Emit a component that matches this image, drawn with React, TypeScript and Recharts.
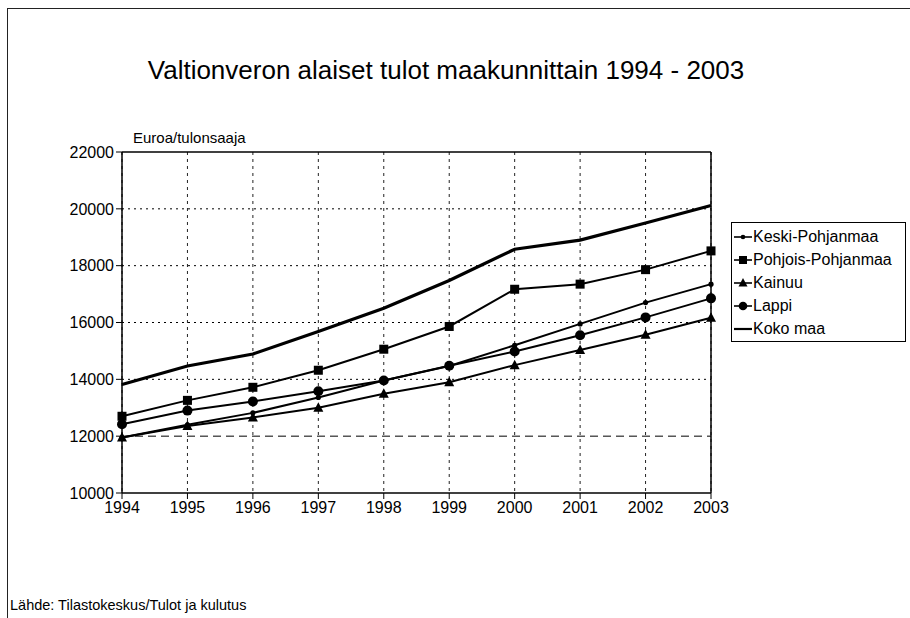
import React from 'react';
import { LineChart, Line, XAxis, YAxis, CartesianGrid, ReferenceLine } from 'recharts';

const years = [1994, 1995, 1996, 1997, 1998, 1999, 2000, 2001, 2002, 2003];
const keskiPohjanmaa = [11950, 12400, 12820, 13360, 13960, 14470, 15200, 15950, 16700, 17350];
const pohjoisPohjanmaa = [12700, 13260, 13720, 14320, 15060, 15860, 17170, 17350, 17860, 18520];
const kainuu = [11950, 12360, 12660, 13000, 13490, 13900, 14500, 15030, 15570, 16170];
const lappi = [12420, 12900, 13220, 13580, 13960, 14480, 14980, 15550, 16180, 16850];
const kokoMaa = [13820, 14470, 14890, 15680, 16500, 17480, 18580, 18900, 19500, 20120];
const yTicks = [10000, 12000, 14000, 16000, 18000, 20000, 22000];
const dottedGrid = [14000, 16000, 18000, 20000];
const seriesNames = ['Keski-Pohjanmaa', 'Pohjois-Pohjanmaa', 'Kainuu', 'Lappi', 'Koko maa'];

const data = years.map((y, i) => ({
  year: y,
  keski: keskiPohjanmaa[i],
  pohjois: pohjoisPohjanmaa[i],
  kainuu: kainuu[i],
  lappi: lappi[i],
  koko: kokoMaa[i],
}));

const FONT = '"Liberation Sans", Arial, sans-serif';

const SmallDot = (p: any) => <circle cx={p.cx} cy={p.cy} r={2.6} fill="#000" />;
const SquareDot = (p: any) => <rect x={p.cx - 4.5} y={p.cy - 4.5} width={9} height={9} fill="#000" />;
const TriDot = (p: any) => (
  <polygon points={`${p.cx},${p.cy - 5.5} ${p.cx + 5},${p.cy + 4} ${p.cx - 5},${p.cy + 4}`} fill="#000" />
);
const CircleDot = (p: any) => <circle cx={p.cx} cy={p.cy} r={5} fill="#000" />;

const markerFor = (i: number, cx: number, cy: number) => {
  if (i === 0) return <circle cx={cx} cy={cy} r={2.3} fill="#000" />;
  if (i === 1) return <rect x={cx - 4} y={cy - 4} width={8} height={8} fill="#000" />;
  if (i === 2) return <polygon points={`${cx},${cy - 5} ${cx + 4.5},${cy + 3.5} ${cx - 4.5},${cy + 3.5}`} fill="#000" />;
  if (i === 3) return <circle cx={cx} cy={cy} r={4.3} fill="#000" />;
  return null;
};

const LegendBox = () => (
  <div
    style={{
      position: 'absolute',
      left: 731,
      top: 222,
      width: 175,
      height: 120,
      border: '1px solid #000',
      background: '#fff',
      boxSizing: 'border-box',
      paddingTop: 2,
      fontFamily: FONT,
      fontSize: 16,
      color: '#000',
    }}
  >
    {seriesNames.map((n, i) => (
      <div key={n} style={{ display: 'flex', alignItems: 'center', height: 23.2 }}>
        <svg width={20} height={14} style={{ marginLeft: 1 }}>
          <line x1={1} y1={7} x2={19} y2={7} stroke="#000" strokeWidth={i === 4 ? 2.2 : 1.6} />
          {markerFor(i, 10, 7)}
        </svg>
        <span>{n}</span>
      </div>
    ))}
  </div>
);

export default function App() {
  return (
    <div style={{ position: 'absolute', left: 0, top: 0, width: 910, height: 618, background: '#fff', overflow: 'hidden' }}>
      <div style={{ position: 'absolute', left: 7, top: 8, width: 910, height: 620, borderLeft: '1.5px solid #222', borderTop: '1.5px solid #222' }} />
      <div
        style={{
          position: 'absolute',
          left: 0,
          top: 55,
          width: 892,
          textAlign: 'center',
          fontFamily: FONT,
          fontSize: 26,
          color: '#000',
        }}
      >
        Valtionveron alaiset tulot maakunnittain 1994 - 2003
      </div>
      <div style={{ position: 'absolute', left: 133, top: 129, fontFamily: FONT, fontSize: 15, color: '#000' }}>
        Euroa/tulonsaaja
      </div>
      <div style={{ position: 'absolute', left: 10, top: 597, fontFamily: FONT, fontSize: 14.5, color: '#000' }}>
        Lähde: Tilastokeskus/Tulot ja kulutus
      </div>
      <div style={{ position: 'absolute', left: 0, top: 0 }}>
        <LineChart width={910} height={618} data={data} margin={{ top: 152, right: 199, bottom: 95, left: 62 }}>
          <CartesianGrid horizontal={false} vertical={true} stroke="#222" strokeDasharray="3 4" strokeWidth={1} />
          {dottedGrid.map((v) => (
            <ReferenceLine key={v} y={v} stroke="#000" strokeDasharray="2 4" strokeWidth={1} />
          ))}
          <ReferenceLine y={12000} stroke="#000" strokeDasharray="8 5" strokeWidth={1} />
          <ReferenceLine y={22000} stroke="#000" strokeWidth={1.5} />
          <ReferenceLine x={2003} stroke="#000" strokeWidth={1.5} />
          <XAxis
            dataKey="year"
            type="number"
            domain={[1994, 2003]}
            ticks={years}
            interval={0}
            height={30}
            axisLine={{ stroke: '#000', strokeWidth: 1.5 }}
            tickLine={{ stroke: '#000' }}
            tickSize={6}
            tickMargin={3}
            tick={{ fill: '#000', fontSize: 16, fontFamily: FONT }}
          />
          <YAxis
            domain={[10000, 22000]}
            ticks={yTicks}
            interval={0}
            width={60}
            axisLine={{ stroke: '#000', strokeWidth: 1.5 }}
            tickLine={{ stroke: '#000' }}
            tickSize={6}
            tick={{ fill: '#000', fontSize: 16, fontFamily: FONT }}
          />
          <Line dataKey="koko" name="Koko maa" stroke="#000" strokeWidth={3.2} dot={false} isAnimationActive={false} />
          <Line dataKey="pohjois" name="Pohjois-Pohjanmaa" stroke="#000" strokeWidth={2} dot={<SquareDot />} isAnimationActive={false} />
          <Line dataKey="lappi" name="Lappi" stroke="#000" strokeWidth={2} dot={<CircleDot />} isAnimationActive={false} />
          <Line dataKey="keski" name="Keski-Pohjanmaa" stroke="#000" strokeWidth={2} dot={<SmallDot />} isAnimationActive={false} />
          <Line dataKey="kainuu" name="Kainuu" stroke="#000" strokeWidth={2} dot={<TriDot />} isAnimationActive={false} />
        </LineChart>
      </div>
      <LegendBox />
    </div>
  );
}
